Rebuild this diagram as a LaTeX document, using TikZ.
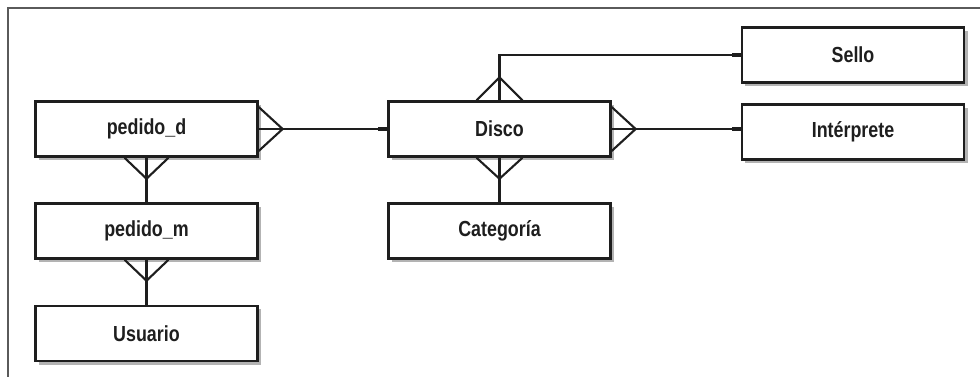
\documentclass[tikz,border=0pt]{standalone}
\usepackage{fontspec}
\setmainfont{Liberation Sans}[FakeStretch=0.82]
\usetikzlibrary{positioning}
\usetikzlibrary{calc}
\usetikzlibrary{shadows}
\definecolor{ink}{RGB}{30,30,30}
\definecolor{frame}{RGB}{90,90,90}

\begin{document}
\begin{tikzpicture}[x=0.025cm, y=-0.025cm,
    every node/.style={font=\fontsize{15.5}{17}\selectfont\bfseries, text=ink},
    entity/.style={draw=ink, line width=1.6pt, fill=white, minimum width=5.55cm, minimum height=1.38cm,
        inner sep=0pt, drop shadow={shadow xshift=2.5pt, shadow yshift=-2.5pt, fill=black!40, opacity=0.75}},
    rel/.style={draw=ink, line width=1.5pt},
    onemark/.style={draw=ink, line width=2.8pt}]
    \useasboundingbox (0,0) rectangle (980,377);
    \draw[frame, line width=0.9pt] (980,8) -- (8,8) -- (8,377);

    % entities
    \node[entity] (pd) at (146.5,129) {pedido\_d};
    \node[entity] (pm) at (146.5,231) {pedido\_m};
    \node[entity] (usr) at (146.5,333.5) {Usuario};
    \node[entity] (disco) at (499.5,129) {Disco};
    \node[entity] (cat) at (499.5,231) {Categoría};
    \node[entity] (sello) at (853,55) {Sello};
    \node[entity] (inter) at (853,132) {Intérprete};

    % pedido_d -- Disco
    \draw[rel] (pd.east) -- (disco.west);
    \draw[rel] ($(pd.east)+(0,-22)$) -- ($(pd.east)+(24,0)$) -- ($(pd.east)+(0,22)$);
    \draw[onemark] (disco.west) -- ++(-9,0);

    % Disco -- Interprete
    \draw[rel] (disco.east) -- (disco.east -| inter.west);
    \draw[rel] ($(disco.east)+(0,-22)$) -- ($(disco.east)+(24,0)$) -- ($(disco.east)+(0,22)$);
    \draw[onemark] (disco.east -| inter.west) -- ++(-9,0);

    % Disco -- Sello
    \draw[rel] (disco.north) |- (sello.west);
    \draw[rel] ($(disco.north)+(-23,0)$) -- ($(disco.north)+(0,-23)$) -- ($(disco.north)+(23,0)$);
    \draw[onemark] (sello.west) -- ++(-9,0);

    % Disco -- Categoria
    \draw[rel] (disco.south) -- (cat.north);
    \draw[rel] ($(disco.south)+(-23,0)$) -- ($(disco.south)+(0,21)$) -- ($(disco.south)+(23,0)$);

    % pedido_d -- pedido_m
    \draw[rel] (pd.south) -- (pm.north);
    \draw[rel] ($(pd.south)+(-22,0)$) -- ($(pd.south)+(0,21)$) -- ($(pd.south)+(22,0)$);

    % pedido_m -- Usuario
    \draw[rel] (pm.south) -- (usr.north);
    \draw[rel] ($(pm.south)+(-22,0)$) -- ($(pm.south)+(0,21)$) -- ($(pm.south)+(22,0)$);
\end{tikzpicture}
\end{document}
